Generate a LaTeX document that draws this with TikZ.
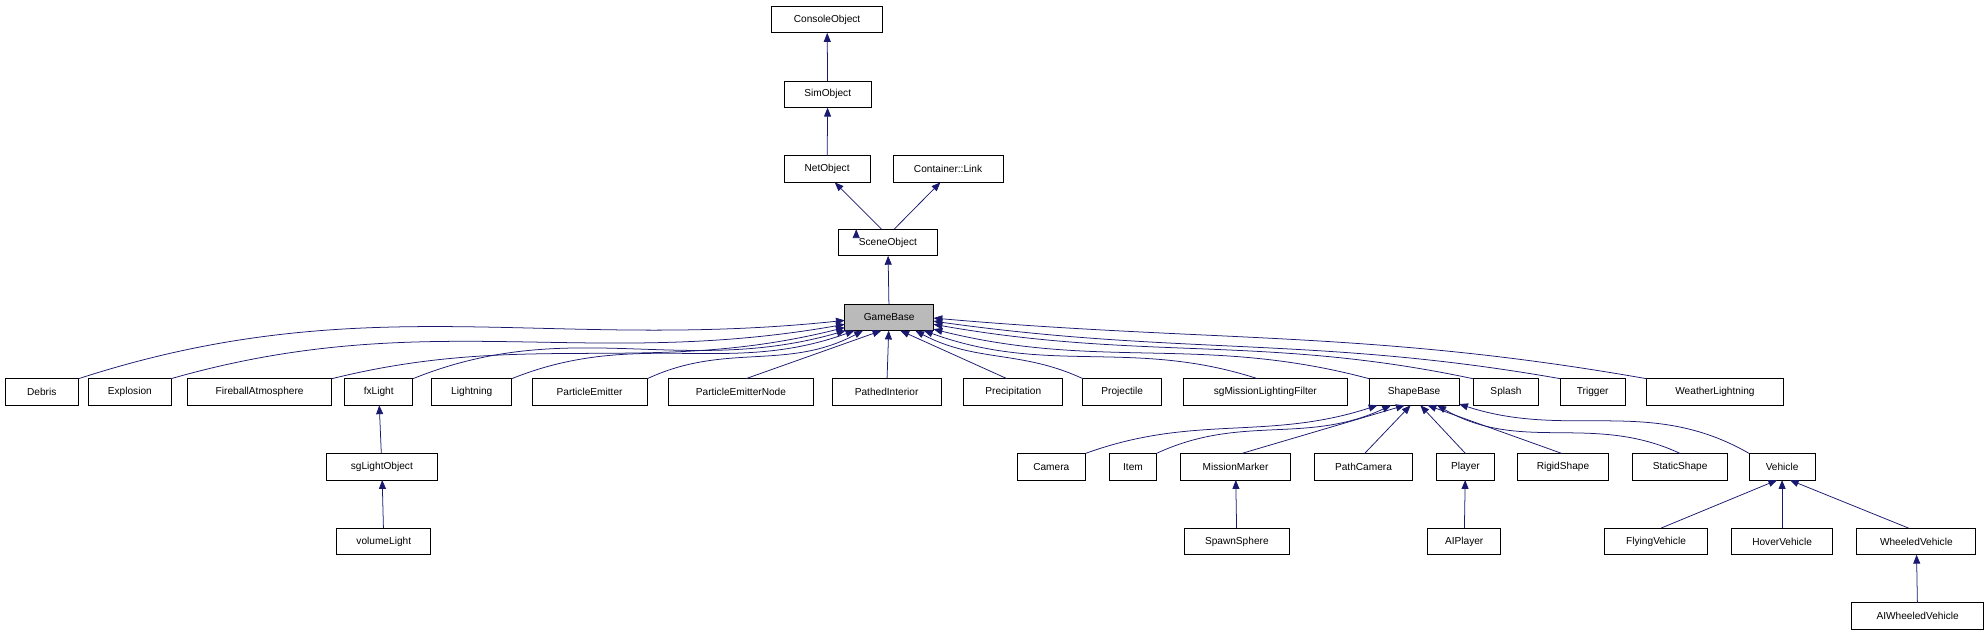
\documentclass[tikz,border=0pt]{standalone}
\usepackage{fontspec}
\setmainfont{Liberation Sans}
\usetikzlibrary{arrows.meta}
\definecolor{edgec}{HTML}{191970}
\begin{document}
\begin{tikzpicture}[x=1pt,y=-1pt,
  box/.style={draw=black,line width=0.7pt,inner sep=0pt,outer sep=0pt,font=\fontsize{8}{9}\selectfont},
  edge/.style={draw=edgec,line width=0.6pt,-{Triangle[length=7pt,width=5.5pt]}}]
\fill[white] (0,0) rectangle (1568,500);
\useasboundingbox (0,0) rectangle (1568,500);
\newcommand\bx[6]{\node[box,minimum width={#3-#2},minimum height={#5-#4}] (#1) at ({(#2+#3)/2},{(#4+#5)/2}) {#6};}
\bx{co}{609}{697}{5}{26}{ConsoleObject}
\bx{so}{619}{688}{64}{85}{SimObject}
\bx{no}{619}{687}{123}{144}{NetObject}
\bx{cl}{705}{792}{123}{144}{Container::Link}
\bx{sc}{662}{740}{181}{202}{SceneObject}
\node[box,fill=black!27,minimum width=70,minimum height=21] (gb) at (702,250.5) {GameBase};
% row 6
\bx{debris}{4}{62}{299}{320}{Debris}
\bx{expl}{70}{135}{299}{320}{Explosion}
\bx{fire}{148}{262}{299}{320}{FireballAtmosphere}
\bx{fx}{272}{326}{299}{320}{fxLight}
\bx{light}{341}{404}{299}{320}{Lightning}
\bx{pe}{420}{511}{299}{320}{ParticleEmitter}
\bx{pen}{528}{642}{299}{320}{ParticleEmitterNode}
\bx{pi}{657}{743}{299}{320}{PathedInterior}
\bx{prec}{761}{839}{299}{320}{Precipitation}
\bx{proj}{855}{917}{299}{320}{Projectile}
\bx{sgm}{934}{1064}{299}{320}{sgMissionLightingFilter}
\bx{sb}{1081}{1152}{299}{320}{ShapeBase}
\bx{spl}{1163}{1215}{299}{320}{Splash}
\bx{trig}{1232}{1283}{299}{320}{Trigger}
\bx{wl}{1300}{1408}{299}{320}{WeatherLightning}
% row 7
\bx{sglo}{258}{345}{358}{379}{sgLightObject}
\bx{cam}{803}{857}{358}{379}{Camera}
\bx{item}{876}{913}{358}{379}{Item}
\bx{mm}{932}{1019}{358}{379}{MissionMarker}
\bx{pc}{1038}{1115}{358}{379}{PathCamera}
\bx{pl}{1134}{1180}{358}{379}{Player}
\bx{rs}{1198}{1270}{358}{379}{RigidShape}
\bx{ss}{1289}{1364}{358}{379}{StaticShape}
\bx{veh}{1381}{1433}{358}{379}{Vehicle}
% row 8
\bx{vol}{266}{340}{417}{438}{volumeLight}
\bx{sp}{935}{1018}{417}{438}{SpawnSphere}
\bx{aip}{1127}{1185}{417}{438}{AIPlayer}
\bx{fv}{1267}{1348}{417}{438}{FlyingVehicle}
\bx{hv}{1367}{1447}{417}{438}{HoverVehicle}
\bx{wv}{1466}{1560}{417}{438}{WheeledVehicle}
% row 9
\bx{aiw}{1462}{1566}{476}{497}{AIWheeledVehicle}
% edges
\draw[edge] (so) -- (co);
\draw[edge] (no) -- (so);
\draw[edge] (sc.north west) ++(14,0) coordinate (sc1);
\draw[edge] (sc.115) -- (no.300);
\draw[edge] (sc.65) -- (cl.240);
\draw[edge] (gb) -- (sc);
\draw[edge] (debris.north east) to[out=18,in=186] (gb.184);
\draw[edge] (expl.north east) to[out=16,in=190] (gb.189);
\draw[edge] (fire.north east) to[out=14,in=194] (gb.193);
\draw[edge] (fx.north east) to[out=22,in=196] (gb.197);
\draw[edge] (light.north east) to[out=22,in=200] (gb.201);
\draw[edge] (pe.north east) to[out=25,in=208] (gb.207);
\draw[edge] (pen.70) -- (gb.240);
\draw[edge] (pi) -- (gb);
\draw[edge] (prec.115) -- (gb.310);
\draw[edge] (proj.north west) to[out=155,in=-28] (gb.333);
\draw[edge] (sgm.120) to[out=162,in=-20] (gb.339);
\draw[edge] (sb.north west) to[out=165,in=-14] (gb.345);
\draw[edge] (spl.north west) to[out=168,in=-10] (gb.351);
\draw[edge] (trig.north west) to[out=170,in=-8] (gb.355);
\draw[edge] (wl.north west) to[out=170,in=-5] (gb.359);
\draw[edge] (sglo) -- (fx);
\draw[edge] (vol) -- (sglo);
\draw[edge] (cam.north east) to[out=20,in=198] (sb.200);
\draw[edge] (item.north east) to[out=25,in=205] (sb.210);
\draw[edge] (mm.65) -- (sb.235);
\draw[edge] (pc.85) -- (sb.255);
\draw[edge] (pl.north) -- (sb.295);
\draw[edge] (rs.95) -- (sb.315);
\draw[edge] (ss.north) to[out=155,in=-30] (sb.330);
\draw[edge] (veh.north west) to[out=150,in=-18] (sb.345);
\draw[edge] (sp) -- (mm);
\draw[edge] (aip) -- (pl);
\draw[edge] (fv.70) -- (veh.250);
\draw[edge] (hv.north) -- (veh.south);
\draw[edge] (wv.120) -- (veh.300);
\draw[edge] (aiw) -- (wv);
\end{tikzpicture}
\end{document}
